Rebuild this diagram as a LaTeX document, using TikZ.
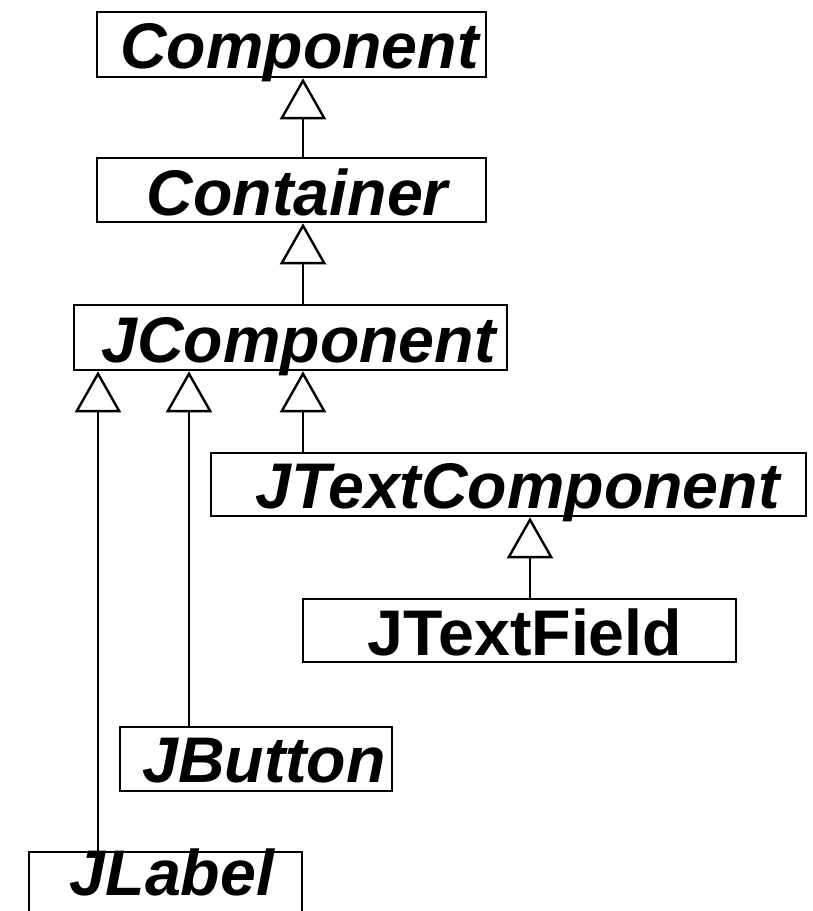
\documentclass[tikz,border=0pt]{standalone}
\usepackage{fontspec}
\setmainfont{Liberation Sans}
\usetikzlibrary{arrows.meta,calc}
\begin{document}
\begin{tikzpicture}[x=1pt,y=-1pt,
  cls/.style={draw, line width=2.6pt, inner sep=0pt, rectangle},
  cname/.style={anchor=base, inner sep=0pt,
    font=\fontsize{64.5}{64.5}\selectfont\bfseries\itshape},
  cnameup/.style={cname, font=\fontsize{64.5}{64.5}\selectfont\bfseries},
  inh/.style={line width=2.4pt,
    {Triangle[open,width=46pt,length=41pt]}-}]
\clip (0,0) rectangle (812,911);
\fill[white] (0,0) rectangle (812,911);

% class boxes
\node[cls, minimum width=389pt, minimum height=65pt] (comp)  at (291.5,44.5) {};
\node[cls, minimum width=389pt, minimum height=64pt] (cont)  at (291.5,190) {};
\node[cls, minimum width=433pt, minimum height=65pt] (jcomp) at (290.5,337.5) {};
\node[cls, minimum width=595pt, minimum height=63pt] (jtext) at (508.5,484.5) {};
\node[cls, minimum width=433pt, minimum height=63pt] (jfield) at (519.5,630.5) {};
\node[cls, minimum width=272pt, minimum height=64pt] (jbutton) at (256,759) {};
\node[cls, minimum width=273pt, minimum height=64pt] (jlabel) at (165.5,884) {};

% class names
\node[cname]   (tcomp)   at ($(comp.south)+(8,-10)$)    {Component};
\node[cname]   (tcont)   at ($(cont.south)+(6,-8)$)     {Container};
\node[cname]   (tjcomp)  at ($(jcomp.south)+(8,-9)$)    {JComponent};
\node[cname]   (tjtext)  at ($(jtext.south)+(9,-9)$)    {JTextComponent};
\node[cnameup] (tjfield) at ($(jfield.south)+(5.5,-8)$) {JTextField};
\node[cname]   (tjbutton) at ($(jbutton.south)+(8,-10)$) {JButton};
\node[cname]   (tjlabel) at ($(jlabel.north)+(6.5,45)$) {JLabel};

% x positions of the inheritance lines
\coordinate (xA) at (303,0);
\coordinate (xL) at (98,0);
\coordinate (xB) at (189,0);
\coordinate (xF) at (530,0);

% generalisation arrows
\draw[inh] (comp.south -| xA)  -- (cont.north -| xA);
\draw[inh] (cont.south -| xA)  -- (jcomp.north -| xA);
\draw[inh] (jcomp.south -| xL) -- (jlabel.north -| xL);
\draw[inh] (jcomp.south -| xB) -- (jbutton.north -| xB);
\draw[inh] (jcomp.south -| xA) -- (jtext.north -| xA);
\draw[inh] (jtext.south -| xF) -- (jfield.north -| xF);
\end{tikzpicture}
\end{document}
